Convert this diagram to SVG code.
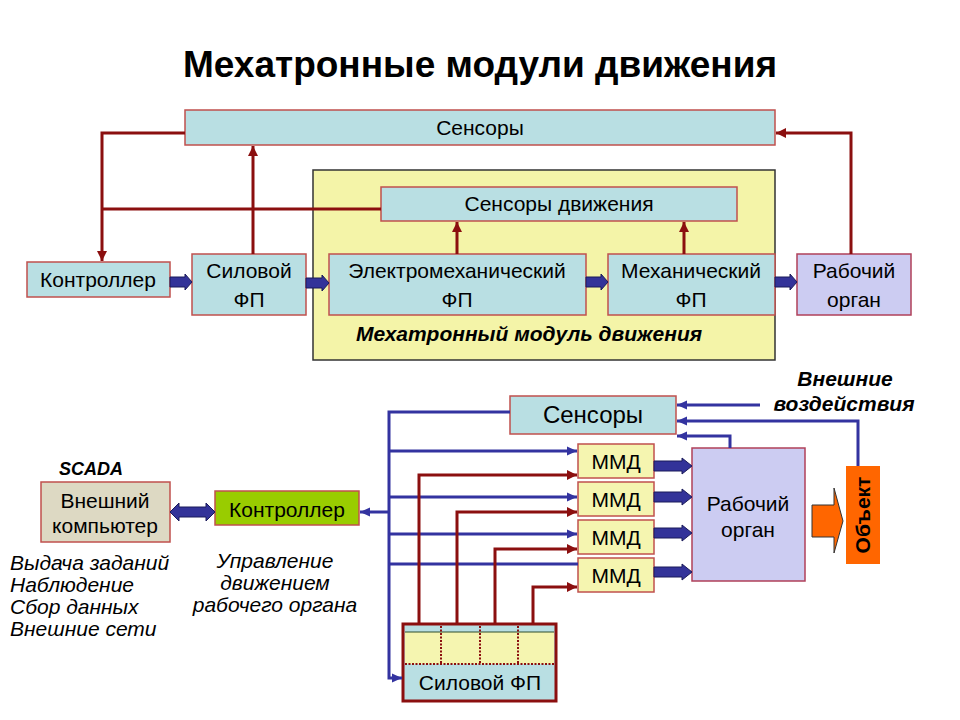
<svg xmlns="http://www.w3.org/2000/svg" width="960" height="720" viewBox="0 0 960 720">
<defs>
<marker id="ar" markerUnits="userSpaceOnUse" markerWidth="12" markerHeight="12" refX="10" refY="6" orient="auto"><path d="M0,1 L10,6 L0,11 Z" fill="#8b0f0f"/></marker>
<marker id="ab" markerUnits="userSpaceOnUse" markerWidth="12" markerHeight="12" refX="10" refY="6" orient="auto"><path d="M0,1.5 L10,6 L0,10.5 Z" fill="#3333a0"/></marker>
</defs>
<style>
text{font-family:"Liberation Sans",Arial,sans-serif;fill:#000}
.t{font-size:21px;text-anchor:middle}
.bi{font-weight:bold;font-style:italic}
.it{font-style:italic;font-size:21px}
.cb{fill:#b9dfe3;stroke:#c0504d;stroke-width:1.5}
.pr{fill:#ccccf2;stroke:#b0405a;stroke-width:1.5}
.mm{fill:#f5f5b0;stroke:#c0504d;stroke-width:1.5}
.rl{fill:none;stroke:#8b0f0f;stroke-width:3}
.bl{fill:none;stroke:#3333a0;stroke-width:3}
.fa{fill:#333399;stroke:#1a1a5a;stroke-width:1}
</style>
<rect width="960" height="720" fill="#fff"/>
<text x="480" y="77" style="font-size:37px;font-weight:bold;text-anchor:middle">Мехатронные модули движения</text>

<g id="module-area"><rect x="313" y="170" width="462" height="190" fill="#f4f4a8" stroke="#333" stroke-width="1.5"/>
<text x="529" y="341" class="bi" style="font-size:21px;text-anchor:middle">Мехатронный модуль движения</text></g>
<g id="sensors-top"><rect class="cb" x="185" y="110" width="590" height="35"/><text class="t" x="480" y="135">Сенсоры</text></g>
<g id="motion-sensors"><rect class="cb" x="381" y="187" width="356" height="34"/><text class="t" x="559" y="211">Сенсоры движения</text></g>
<g id="controller-top"><rect class="cb" x="27" y="262" width="143" height="35"/><text class="t" x="98" y="287">Контроллер</text></g>
<g id="power-fp-top"><rect class="cb" x="192" y="254" width="114" height="61"/><text class="t" x="249" y="278">Силовой</text><text class="t" x="249" y="307">ФП</text></g>
<g id="em-fp"><rect class="cb" x="329" y="254" width="257" height="61"/><text class="t" x="457" y="278">Электромеханический</text><text class="t" x="457" y="307">ФП</text></g>
<g id="mech-fp"><rect class="cb" x="608" y="254" width="167" height="61"/><text class="t" x="691" y="278">Механический</text><text class="t" x="691" y="307">ФП</text></g>
<g id="work-top"><rect class="pr" x="797" y="254" width="114" height="61"/><text class="t" x="854" y="278">Рабочий</text><text class="t" x="854" y="307">орган</text></g>

<g id="sensors-bottom"><rect class="cb" x="510" y="396" width="166" height="38"/><text x="593" y="423" style="font-size:24px;text-anchor:middle">Сенсоры</text></g>
<g id="mmd1"><rect class="mm" x="578" y="444" width="76" height="34"/><text class="t" x="616" y="469">ММД</text></g>
<g id="mmd2"><rect class="mm" x="578" y="482" width="76" height="34"/><text class="t" x="616" y="507">ММД</text></g>
<g id="mmd3"><rect class="mm" x="578" y="520" width="76" height="34"/><text class="t" x="616" y="545">ММД</text></g>
<g id="mmd4"><rect class="mm" x="578" y="558" width="76" height="34"/><text class="t" x="616" y="583">ММД</text></g>
<g id="work-bottom"><rect class="pr" x="692" y="448" width="113" height="133"/><text class="t" x="748" y="511">Рабочий</text><text class="t" x="748" y="537">орган</text></g>
<g id="object"><rect x="846" y="466" width="34" height="98" fill="#ff6600"/><text transform="translate(863,515) rotate(-90)" y="7" style="font-size:21px;font-weight:bold;text-anchor:middle">Объект</text></g>
<g id="ext-computer"><rect x="41" y="482" width="129" height="60" fill="#ddd9c3" stroke="#c0504d" stroke-width="1.5"/><text class="t" x="105" y="508">Внешний</text><text class="t" x="105" y="533">компьютер</text></g>
<g id="controller-bottom"><rect x="215" y="491" width="144" height="34" fill="#99cc00" stroke="#c0504d" stroke-width="1.5"/><text class="t" x="287" y="517">Контроллер</text></g>
<g id="power-fp-bottom">
<rect x="403" y="624" width="153" height="77" fill="#b9dfe3" stroke="#8b0f0f" stroke-width="3"/>
<rect x="405" y="632" width="149" height="32" fill="#f5f5b0"/>
<line x1="405" y1="632" x2="554" y2="632" stroke="#2f4f2f" stroke-width="1.2"/>
<path d="M405,664 H554 M441,626 V664 M480,626 V664 M518,626 V664" stroke="#8b0f0f" stroke-width="2" stroke-dasharray="2,1.5" fill="none"/>
<text class="t" x="480" y="690">Силовой ФП</text></g>

<g id="labels">
<text x="91" y="475" class="bi" style="font-size:18px;text-anchor:middle">SCADA</text>
<text class="it" x="10" y="570">Выдача заданий</text>
<text class="it" x="10" y="592">Наблюдение</text>
<text class="it" x="10" y="614">Сбор данных</text>
<text class="it" x="10" y="636">Внешние сети</text>
<text class="it" x="275" y="568" style="text-anchor:middle">Управление</text>
<text class="it" x="275" y="590" style="text-anchor:middle">движением</text>
<text class="it" x="275" y="612" style="text-anchor:middle">рабочего органа</text>
<text x="845" y="386" class="bi" style="font-size:21px;text-anchor:middle">Внешние</text>
<text x="844" y="411" class="bi" style="font-size:21px;text-anchor:middle">воздействия</text>
</g>

<g id="connectors">
<path class="rl" d="M185,133 H102 V261" marker-end="url(#ar)"/>
<path class="rl" d="M381,209 H102"/>
<path class="rl" d="M253,254 V146" marker-end="url(#ar)"/>
<path class="rl" d="M457,254 V222" marker-end="url(#ar)"/>
<path class="rl" d="M684,254 V222" marker-end="url(#ar)"/>
<path class="rl" d="M851,254 V133 H776" marker-end="url(#ar)"/>
<polygon class="fa" points="170,277 185,277 185,274 192,282 185,290 185,287 170,287"/>
<polygon class="fa" points="306,278 322,278 322,275 329,283 322,291 322,288 306,288"/>
<polygon class="fa" points="586,277 601,277 601,274 608,282 601,290 601,287 586,287"/>
<polygon class="fa" points="775,277 790,277 790,274 797,282 790,290 790,287 775,287"/>

<path class="bl" d="M510,412 H389 V678 H402" marker-end="url(#ab)"/>
<path class="bl" d="M389,451 H577" marker-end="url(#ab)"/>
<path class="bl" d="M389,497 H577" marker-end="url(#ab)"/>
<path class="bl" d="M389,534 H577" marker-end="url(#ab)"/>
<path class="bl" d="M389,564 H578"/>
<path class="bl" d="M389,512 H360" marker-end="url(#ab)"/>
<path class="bl" d="M760,405 H677" marker-end="url(#ab)"/>
<path class="bl" d="M858,466 V421 H677" marker-end="url(#ab)"/>
<path class="bl" d="M730,448 V436 H677" marker-end="url(#ab)"/>
<path class="rl" d="M419,624 V475 H577" marker-end="url(#ar)"/>
<path class="rl" d="M457,624 V512 H577" marker-end="url(#ar)"/>
<path class="rl" d="M495,624 V549 H577" marker-end="url(#ar)"/>
<path class="rl" d="M533,624 V587 H577" marker-end="url(#ar)"/>
<polygon class="fa" points="654,461 682,461 682,458 692,466 682,474 682,471 654,471"/>
<polygon class="fa" points="654,492 682,492 682,489 692,497 682,505 682,502 654,502"/>
<polygon class="fa" points="654,528 682,528 682,525 692,533 682,541 682,538 654,538"/>
<polygon class="fa" points="654,567 682,567 682,564 692,572 682,580 682,577 654,577"/>
<polygon class="fa" points="170,512 179,503 179,507 206,507 206,503 215,512 206,521 206,517 179,517 179,521"/>
<polygon points="812,505 834,505 834,488 843,521 834,553 834,537 812,537" fill="#ff6600" stroke="#333" stroke-width="1"/>
</g>
</svg>
